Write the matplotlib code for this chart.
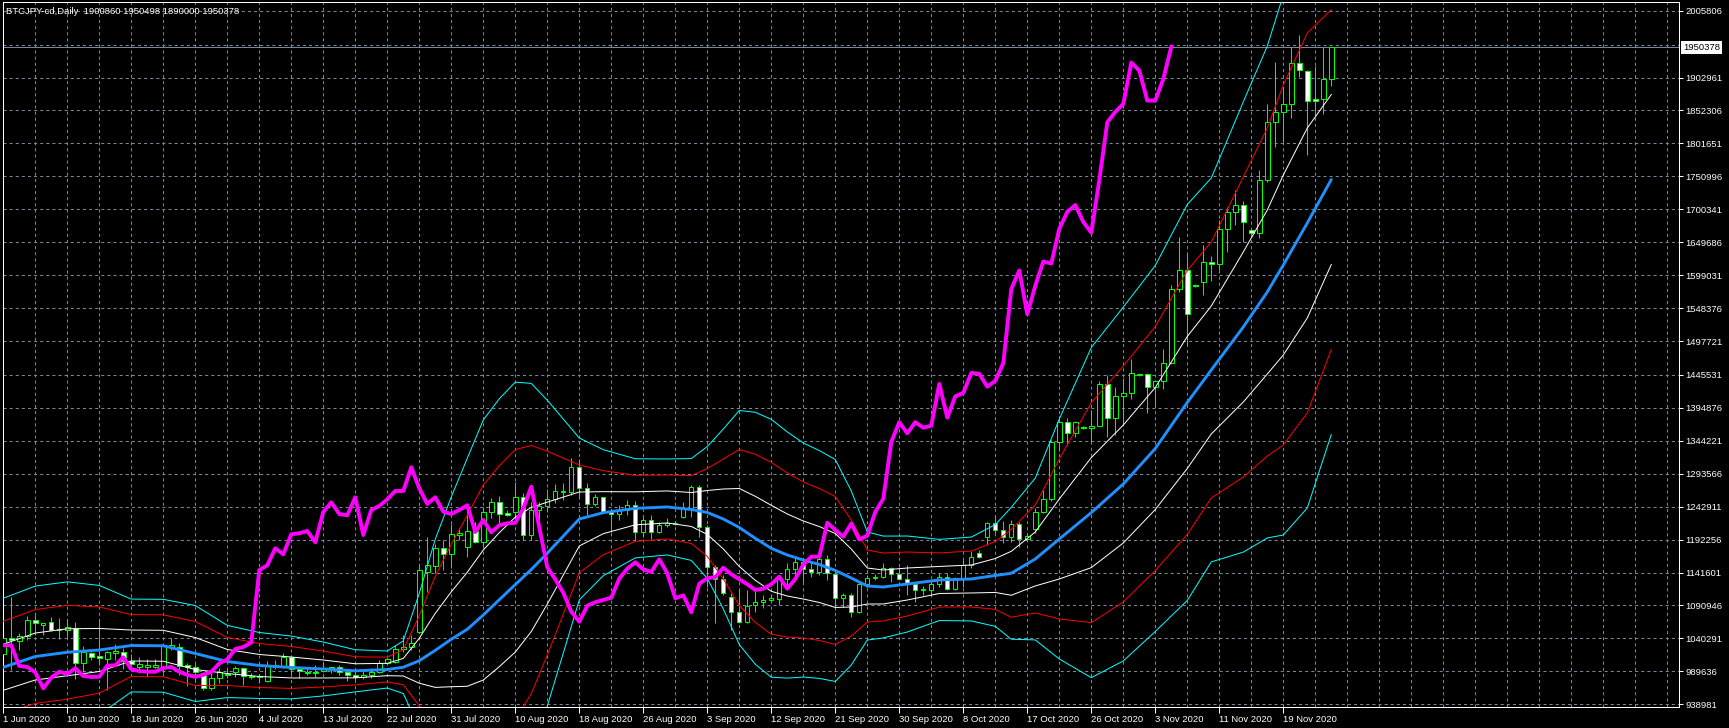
import numpy as np
import matplotlib
matplotlib.use("Agg")
import matplotlib.pyplot as plt

plt.rcParams['lines.scale_dashes'] = False
plt.rcParams['font.family'] = ['Liberation Sans', 'DejaVu Sans']

title_text = "BTCJPY-cd,Daily  1900860 1950498 1890000 1950378"
last_price = 1950378

date_labels = ['1 Jun 2020', '10 Jun 2020', '18 Jun 2020', '26 Jun 2020', '4 Jul 2020',
               '13 Jul 2020', '22 Jul 2020', '31 Jul 2020', '10 Aug 2020', '18 Aug 2020',
               '26 Aug 2020', '3 Sep 2020', '12 Sep 2020', '21 Sep 2020', '30 Sep 2020',
               '8 Oct 2020', '17 Oct 2020', '26 Oct 2020', '3 Nov 2020', '11 Nov 2020',
               '19 Nov 2020']

price_ticks = [938981, 989636, 1040291, 1090946, 1141601, 1192256, 1242911, 1293566,
               1344221, 1394876, 1445531, 1497721, 1548376, 1599031, 1649686, 1700341,
               1750996, 1801651, 1852306, 1902961, 2005806]
hidden_grid = [1953616]  # grid level whose label sits under the price box

# daily OHLC, thousand JPY
open_k = [1016.0, 1040.5, 1036.8, 1044.5, 1068.2, 1061.0, 1065.1, 1052.8, 1052.8, 1056.8,
          1002.1, 1018.4, 1013.3, 1008.7, 1018.4, 1019.9, 1006.1, 996.8, 996.8, 996.8,
          996.8, 1027.6, 1026.7, 999.0, 996.8, 987.6, 963.6, 979.0, 984.1, 989.1,
          994.4, 983.0, 982.5, 974.4, 996.8, 996.8, 1011.3, 992.8, 987.6, 987.6,
          990.2, 994.4, 996.4, 989.1, 984.1, 981.4, 984.1, 989.0, 1002.0, 1004.5,
          1024.0, 1027.0, 1050.6, 1142.9, 1151.7, 1178.9, 1169.7, 1199.8, 1180.5, 1205.5,
          1188.2, 1234.3, 1249.7, 1233.2, 1235.2, 1257.4, 1199.4, 1237.8, 1244.0, 1254.3,
          1265.0, 1265.0, 1303.5, 1271.2, 1246.6, 1257.4, 1234.8, 1231.7, 1237.4, 1245.1,
          1203.5, 1222.5, 1203.5, 1214.3, 1217.0, 1227.5, 1240.4, 1273.7, 1211.2, 1149.7,
          1131.3, 1103.6, 1081.4, 1065.1, 1091.3, 1095.9, 1099.4, 1100.5, 1132.2, 1147.6,
          1157.4, 1146.6, 1142.5, 1162.0, 1139.0, 1102.0, 1106.6, 1080.5, 1124.5, 1132.8,
          1135.2, 1149.1, 1139.0, 1131.3, 1123.6, 1114.8, 1114.8, 1123.6, 1135.2, 1116.8,
          1131.3, 1153.7, 1171.2, 1196.8, 1218.3, 1207.1, 1196.8, 1216.9, 1192.5, 1208.5,
          1234.9, 1255.1, 1342.6, 1372.9, 1355.8, 1365.0, 1364.4, 1367.5, 1431.8, 1379.8,
          1412.6, 1417.9, 1445.9, 1447.2, 1427.5, 1436.5, 1463.5, 1577.6, 1606.2, 1583.9,
          1588.2, 1620.0, 1615.7, 1670.3, 1696.3, 1706.9, 1667.7, 1663.4, 1745.1, 1834.1,
          1850.1, 1862.3, 1925.9, 1912.7, 1870.3, 1870.3, 1900.86]
high_k = [1045.6, 1104.5, 1048.6, 1074.8, 1076.3, 1064.5, 1072.8, 1071.3, 1070.2, 1066.0,
          1028.7, 1019.9, 1068.6, 1021.0, 1031.3, 1025.1, 1015.9, 1011.3, 1008.2, 1008.6,
          1031.7, 1041.4, 1032.8, 1002.1, 1000.5, 989.1, 989.1, 995.3, 994.4, 997.9,
          996.8, 986.7, 985.6, 1005.6, 1007.1, 1017.4, 1014.8, 995.3, 996.8, 999.4,
          1003.6, 996.8, 999.4, 992.0, 990.0, 990.0, 995.0, 1007.0, 1010.0, 1030.0,
          1045.0, 1045.0, 1151.7, 1196.8, 1185.5, 1191.7, 1215.8, 1209.7, 1245.5, 1218.9,
          1242.9, 1255.8, 1259.4, 1237.8, 1280.4, 1263.5, 1250.6, 1250.6, 1269.7, 1277.4,
          1278.9, 1317.3, 1316.0, 1278.9, 1262.4, 1258.4, 1237.8, 1245.5, 1253.2, 1251.7,
          1227.5, 1230.1, 1219.8, 1225.1, 1221.0, 1250.6, 1276.3, 1276.3, 1214.8, 1153.2,
          1137.9, 1109.7, 1114.8, 1114.8, 1113.3, 1107.1, 1107.1, 1137.9, 1155.9, 1164.5,
          1160.9, 1155.9, 1168.6, 1168.6, 1142.9, 1109.7, 1109.7, 1127.6, 1137.9, 1139.4,
          1155.9, 1150.6, 1150.6, 1153.2, 1127.5, 1120.9, 1127.5, 1140.5, 1140.5, 1135.2,
          1160.9, 1175.2, 1176.3, 1219.8, 1230.1, 1220.9, 1223.2, 1219.1, 1202.0, 1240.3,
          1268.3, 1345.2, 1382.4, 1379.8, 1374.4, 1367.0, 1391.9, 1435.5, 1445.9, 1427.5,
          1440.7, 1469.9, 1449.0, 1448.7, 1438.1, 1485.8, 1583.9, 1658.2, 1631.6, 1586.0,
          1644.9, 1629.0, 1684.6, 1703.2, 1729.7, 1713.8, 1669.0, 1761.5, 1862.3, 1927.5,
          1888.9, 1949.8, 1968.4, 1913.8, 1920.7, 1949.8, 1950.498]
low_k = [1010.0, 991.7, 1022.5, 1037.9, 1045.6, 1045.6, 1052.2, 1039.4, 1043.0, 977.5,
         989.1, 1007.1, 999.4, 961.0, 1007.1, 992.8, 990.2, 987.6, 981.4, 994.8,
         986.7, 1022.5, 984.1, 967.6, 976.4, 961.0, 961.0, 971.3, 979.0, 981.4,
         968.7, 977.5, 972.2, 973.3, 992.8, 994.4, 984.1, 979.0, 984.1, 981.4,
         989.1, 986.7, 984.1, 975.0, 977.0, 978.0, 980.0, 986.7, 999.0, 1002.5,
         1020.0, 1022.0, 1048.2, 1112.2, 1140.5, 1145.5, 1148.2, 1191.7, 1165.1, 1186.6,
         1181.4, 1225.1, 1217.4, 1228.6, 1222.5, 1191.7, 1191.7, 1219.8, 1235.2, 1249.0,
         1253.2, 1260.9, 1258.0, 1230.1, 1244.0, 1232.8, 1204.5, 1222.5, 1230.1, 1191.7,
         1196.8, 1192.8, 1202.0, 1212.1, 1214.0, 1225.1, 1227.5, 1196.8, 1119.9, 1063.6,
         1107.1, 1053.3, 1063.6, 1063.6, 1081.4, 1087.6, 1096.8, 1091.7, 1119.9, 1130.2,
         1127.5, 1135.2, 1137.9, 1130.2, 1084.0, 1089.1, 1073.7, 1079.9, 1119.9, 1130.2,
         1132.8, 1127.5, 1130.2, 1107.1, 1095.9, 1107.1, 1107.1, 1119.9, 1114.8, 1114.8,
         1119.9, 1148.2, 1164.0, 1184.0, 1202.0, 1187.5, 1188.8, 1180.8, 1191.4, 1202.0,
         1232.8, 1252.4, 1329.3, 1337.3, 1349.5, 1363.0, 1342.6, 1366.4, 1350.6, 1353.2,
         1369.2, 1408.9, 1444.0, 1387.6, 1395.6, 1423.8, 1461.9, 1573.3, 1491.1, 1581.0,
         1569.1, 1589.3, 1607.7, 1634.3, 1676.6, 1650.2, 1663.0, 1655.6, 1742.9, 1796.0,
         1804.0, 1841.0, 1903.2, 1783.8, 1843.8, 1846.4, 1890.0]
close_k = [1041.4, 1037.4, 1044.5, 1068.6, 1063.6, 1063.6, 1053.3, 1055.3, 1058.3, 1002.1,
           1019.4, 1011.3, 1009.7, 1019.0, 1021.0, 1006.1, 1001.0, 1000.5, 999.4, 999.4,
           1029.7, 1029.7, 997.9, 996.4, 988.2, 963.6, 979.9, 989.1, 985.6, 994.4,
           982.5, 981.0, 981.4, 998.4, 999.0, 1011.3, 992.8, 990.2, 989.1, 989.1,
           994.8, 996.4, 989.1, 984.1, 981.4, 984.1, 989.0, 1002.0, 1008.0, 1024.0,
           1027.0, 1034.0, 1145.5, 1152.8, 1178.9, 1169.7, 1200.5, 1202.0, 1205.5, 1188.2,
           1234.8, 1249.7, 1231.7, 1229.7, 1257.4, 1199.4, 1237.8, 1244.0, 1254.3, 1267.0,
           1267.0, 1303.5, 1271.2, 1247.1, 1257.4, 1235.2, 1231.7, 1237.8, 1245.1, 1204.0,
           1222.5, 1203.5, 1214.3, 1217.4, 1218.0, 1240.4, 1273.7, 1211.2, 1149.7, 1131.3,
           1110.6, 1081.4, 1066.0, 1090.6, 1095.9, 1099.4, 1103.0, 1132.2, 1147.6, 1157.4,
           1146.6, 1142.5, 1162.0, 1140.5, 1102.0, 1106.6, 1080.5, 1124.5, 1132.8, 1134.8,
           1149.1, 1139.0, 1131.3, 1123.6, 1114.8, 1116.8, 1123.6, 1135.2, 1116.8, 1131.7,
           1153.7, 1166.0, 1166.0, 1218.3, 1207.1, 1196.8, 1216.9, 1192.5, 1198.3, 1234.9,
           1255.1, 1342.6, 1372.9, 1355.8, 1372.9, 1364.4, 1367.5, 1431.8, 1379.8, 1412.6,
           1417.9, 1448.7, 1447.2, 1427.5, 1436.5, 1463.5, 1577.6, 1606.2, 1538.8, 1582.8,
           1620.0, 1616.8, 1670.3, 1696.3, 1706.9, 1680.9, 1664.5, 1745.1, 1834.1, 1850.1,
           1862.3, 1925.9, 1913.8, 1867.6, 1867.6, 1900.4, 1950.378]

# Bollinger middle line and standard deviation, read at these bars (thousand JPY)
band_bars = [0, 4, 8, 12, 16, 20, 24, 28, 32, 36, 40, 44, 48, 50, 52, 54, 56, 58, 60, 62,
             64, 66, 68, 70, 72, 75, 79, 83, 86, 88, 90, 92, 94, 96, 98, 100, 102, 104, 106, 108,
             110, 113, 117, 121, 124, 126, 129, 132, 136, 140, 144, 148, 151, 155, 158, 160, 163, 166]
mid_k = [995.9, 1012.5, 1019.0, 1022.5, 1029.4, 1029.0, 1017.1, 1004.8, 998.7, 995.6,
         993.3, 990.5, 992.5, 996.0, 1006.0, 1022.0, 1039.0, 1054.4, 1076.3, 1099.9,
         1123.1, 1146.3, 1171.5, 1197.7, 1224.0, 1233.7, 1240.4, 1242.5, 1238.6, 1234.0,
         1224.0, 1210.9, 1194.3, 1178.9, 1168.6, 1160.9, 1154.0, 1144.8, 1133.2, 1120.9,
         1119.4, 1124.0, 1130.2, 1131.7, 1137.1, 1140.5, 1162.5, 1193.2, 1233.8, 1277.8,
         1332.4, 1403.2, 1453.2, 1519.3, 1573.1, 1614.6, 1679.2, 1746.1]
sd_k = [35.4, 36.1, 36.1, 33.1, 23.8, 23.8, 24.6, 18.5, 16.9, 16.1,
        13.8, 10.8, 9.5, 13.5, 34.6, 57.0, 73.0, 87.7, 100.0, 103.0,
        103.8, 95.4, 78.4, 60.0, 41.5, 32.3, 25.4, 24.6, 26.1, 33.8,
        46.1, 60.0, 64.6, 66.1, 63.1, 60.0, 58.4, 56.9, 44.6, 27.7,
        26.1, 24.6, 20.8, 21.5, 26.1, 33.8, 41.5, 61.5, 84.6, 90.7,
        93.8, 101.5, 98.4, 115.4, 126.1, 138.4, 146.1, 130.7]
lag_shift = 20  # magenta lagging line: close shifted back 20 bars

K = 1000.0
o = np.array(open_k) * K
h = np.array(high_k) * K
l = np.array(low_k) * K
c = np.array(close_k) * K
n = len(c)
x = np.arange(n)
bb_x = np.array(band_bars)
mid = np.array(mid_k) * K
sd = np.array(sd_k) * K

BG = 'black'
GRID = '#778899'
CANDLE = '#00ff00'
px = 0.72  # one pixel in points at 100 dpi
FS = 6.8

fig = plt.figure(figsize=(17.29, 7.28), dpi=100, facecolor=BG)
ax = fig.add_axes([2.7 / 1729, 21 / 728, 1676 / 1729, 705 / 728], facecolor=BG)
ax.set_xlim(-0.075, 209.425)
ax.set_ylim(934828, 2019118)

# grid
for b in range(4, 212, 4):
    ax.axvline(b, color=GRID, lw=px, dashes=(2.2, 2.2), zorder=0.5)
for p in price_ticks + hidden_grid:
    ax.axhline(p, color=GRID, lw=px, dashes=(2.2, 2.2), zorder=0.5)
ax.axhline(last_price, color=GRID, lw=px, zorder=0.6)

# candles
ax.vlines(x, l, h, colors=CANDLE, lw=px, zorder=2)
body_bottom = np.minimum(o, c)
body_h = np.maximum(np.abs(c - o), 1.0)
face = ['white' if cc < oo else 'black' for oo, cc in zip(o, c)]
ax.bar(x, body_h, bottom=body_bottom, width=0.55, color=face,
       edgecolor=CANDLE, linewidth=px, zorder=3)

# Bollinger bands
for k, col in [(3, '#00ffff'), (2, '#ff0000'), (1, '#ffffff')]:
    ax.plot(bb_x, mid + k * sd, color=col, lw=px, zorder=4)
    ax.plot(bb_x, mid - k * sd, color=col, lw=px, zorder=4)
ax.plot(bb_x, mid, color='#1e90ff', lw=2.1, zorder=5, solid_capstyle='round')

# lagging line
ax.plot(x[:n - lag_shift], c[lag_shift:], color='#ff00ff', lw=2.8, zorder=6,
        solid_joinstyle='round')

# axes styling
for s in ax.spines.values():
    s.set_color('white')
    s.set_linewidth(px)

ax.yaxis.tick_right()
ax.set_yticks(price_ticks)
ax.set_yticklabels([str(p) for p in price_ticks])
ax.tick_params(axis='y', colors='white', length=3, width=px, pad=2,
               labelsize=FS, labelcolor='white')

ax.set_xticks(list(range(0, 8 * len(date_labels), 8)))
ax.set_xticklabels(date_labels, ha='left')
ax.tick_params(axis='x', colors='white', length=4, width=px, pad=1.5,
               labelsize=FS, labelcolor='white')

fig.text(6 / 1729, 1 - 11 / 728, title_text, color='white', fontsize=FS,
         ha='left', va='center')
fig.text(1683 / 1729, 1 - 47.5 / 728, str(last_price), color='black', fontsize=FS,
         ha='left', va='center', zorder=10,
         bbox=dict(boxstyle='square,pad=0.25', fc='white', ec='none'))

fig.savefig('out.png', dpi=100, facecolor=BG)
